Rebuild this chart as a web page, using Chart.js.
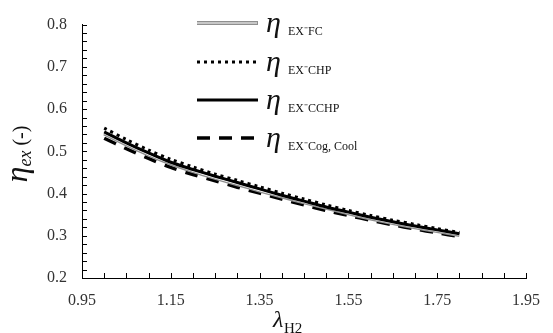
<!DOCTYPE html>
<html lang="en">
<head>
    <meta charset="UTF-8">
    <title>Exergy efficiency vs lambda H2</title>
    <script src="https://cdn.jsdelivr.net/npm/chart.js"></script>
    <style>
        body { margin: 0; padding: 0; background: #fff; }
        #chartBox { width: 553px; height: 333px; position: relative; }
    </style>
</head>
<body>
    <div id="chartBox"><canvas id="effChart" width="553" height="333"></canvas></div>

    <script>
        // values
        const lambdaH2 = [1.00, 1.05, 1.10, 1.15, 1.20, 1.25, 1.30, 1.35, 1.40, 1.45, 1.50, 1.55, 1.60, 1.65, 1.70, 1.75, 1.80];
        const etaFC    = [0.542, 0.516, 0.492, 0.471, 0.453, 0.437, 0.422, 0.407, 0.393, 0.379, 0.366, 0.353, 0.341, 0.330, 0.320, 0.311, 0.302];
        const etaCHP   = [0.555, 0.528, 0.503, 0.481, 0.463, 0.446, 0.431, 0.416, 0.401, 0.387, 0.373, 0.360, 0.348, 0.337, 0.327, 0.317, 0.308];
        const etaCCHP  = [0.546, 0.520, 0.496, 0.474, 0.457, 0.441, 0.426, 0.411, 0.396, 0.382, 0.368, 0.356, 0.344, 0.333, 0.323, 0.314, 0.305];
        const etaCog   = [0.531, 0.506, 0.483, 0.462, 0.445, 0.430, 0.415, 0.401, 0.387, 0.373, 0.360, 0.348, 0.337, 0.326, 0.316, 0.307, 0.298];
        const xTicks = [0.95, 1.15, 1.35, 1.55, 1.75, 1.95];
        const yTicks = [0.2, 0.3, 0.4, 0.5, 0.6, 0.7, 0.8];
        const legendSubs = ['EX\u207BFC', 'EX\u207BCHP', 'EX\u207BCCHP', 'EX\u207BCog, Cool'];

        const serif = '"Liberation Serif"';
        const pts = (ys) => ys.map((y, i) => ({ x: lambdaH2[i], y: y }));

        // inward minor ticks, titles and the legend
        const decorPlugin = {
            id: 'decor',
            afterDraw(chart) {
                const ctx = chart.ctx;
                const xs = chart.scales.x, ys = chart.scales.y;
                const area = chart.chartArea;
                ctx.save();
                ctx.strokeStyle = '#000';
                ctx.lineWidth = 1;
                ctx.beginPath();
                for (let i = 0; i <= 20; i++) {
                    const px = Math.round(xs.getPixelForValue(0.95 + i * 0.05)) + 0.5;
                    ctx.moveTo(px, area.bottom);
                    ctx.lineTo(px, area.bottom - 5);
                }
                for (let i = 0; i <= 30; i++) {
                    const py = Math.round(ys.getPixelForValue(0.2 + i * 0.02)) + 0.5;
                    ctx.moveTo(area.left, py);
                    ctx.lineTo(area.left + 5, py);
                }
                ctx.stroke();

                // legend
                const rowY = [23, 62, 100, 138];
                const dsIndex = [0, 2, 3, 4];
                dsIndex.forEach((k, i) => {
                    const y = rowY[i];
                    const d = chart.data.datasets[k];
                    ctx.beginPath();
                    ctx.setLineDash(d.borderDash || []);
                    ctx.lineWidth = d.borderWidth;
                    ctx.strokeStyle = d.borderColor;
                    ctx.moveTo(197, y);
                    ctx.lineTo(258, y);
                    ctx.stroke();
                    if (i === 0) {
                        const inner = chart.data.datasets[1];
                        ctx.beginPath();
                        ctx.lineWidth = inner.borderWidth;
                        ctx.strokeStyle = inner.borderColor;
                        ctx.moveTo(197, y);
                        ctx.lineTo(257, y);
                        ctx.stroke();
                    }
                    ctx.setLineDash([]);
                    ctx.fillStyle = '#111';
                    ctx.textBaseline = 'alphabetic';
                    ctx.textAlign = 'left';
                    ctx.font = 'italic 30px ' + serif;
                    ctx.fillText('\u03B7', 266, y + 9);
                    ctx.font = '12px ' + serif;
                    ctx.fillText(legendSubs[i], 288, y + 12);
                });

                // y title
                ctx.save();
                ctx.translate(27, 154);
                ctx.rotate(-Math.PI / 2);
                ctx.fillStyle = '#111';
                ctx.textBaseline = 'alphabetic';
                ctx.font = 'italic 32px ' + serif;
                const w1 = ctx.measureText('\u03B7').width;
                ctx.font = 'italic 18px ' + serif;
                const w2 = ctx.measureText('ex').width;
                ctx.font = '20px ' + serif;
                const w3 = ctx.measureText(' (-)').width;
                let sx = -(w1 + w2 + w3) / 2;
                ctx.font = 'italic 32px ' + serif;
                ctx.fillText('\u03B7', sx, 0);
                sx += w1;
                ctx.font = 'italic 18px ' + serif;
                ctx.fillText('ex', sx, 4);
                sx += w2;
                ctx.font = '20px ' + serif;
                ctx.fillText(' (-)', sx, 0);
                ctx.restore();

                // x title
                ctx.fillStyle = '#111';
                ctx.font = 'italic 24px ' + serif;
                ctx.fillText('\u03BB', 273, 327);
                ctx.font = '15px ' + serif;
                ctx.fillText('H2', 284, 333);
                ctx.restore();
            }
        };

        const buildChart = () => {
            new Chart(document.getElementById('effChart'), {
                type: 'line',
                data: {
                    datasets: [
                        { label: 'FC', data: pts(etaFC), borderColor: '#8f8f8f', borderWidth: 4, order: 4 },
                        { label: 'FC inner', data: pts(etaFC), borderColor: '#ffffff', borderWidth: 1.2, order: 3 },
                        { label: 'CHP', data: pts(etaCHP), borderColor: '#000', borderWidth: 3, borderDash: [3, 4], order: 0 },
                        { label: 'CCHP', data: pts(etaCCHP), borderColor: '#000', borderWidth: 3, order: 1 },
                        { label: 'Cog, Cool', data: pts(etaCog), borderColor: '#000', borderWidth: 3.5, borderDash: [13, 9], order: 5 }
                    ]
                },
                options: {
                    responsive: false,
                    animation: false,
                    layout: { padding: { top: 19, right: 22, left: 0, bottom: 0 } },
                    elements: { point: { radius: 0 }, line: { tension: 0.3, borderCapStyle: 'butt' } },
                    plugins: { legend: { display: false }, tooltip: { enabled: false } },
                    scales: {
                        x: {
                            type: 'linear',
                            min: 0.95,
                            max: 1.95,
                            afterFit: (scale) => { scale.height = 55; },
                            afterBuildTicks: (scale) => { scale.ticks = xTicks.map(v => ({ value: v })); },
                            grid: { display: false, drawTicks: false },
                            border: { display: true, color: '#000', width: 1 },
                            ticks: {
                                padding: 13,
                                color: '#333',
                                font: { family: serif, size: 16 },
                                callback: (v) => Number(v).toFixed(2)
                            }
                        },
                        y: {
                            min: 0.2,
                            max: 0.8,
                            afterFit: (scale) => { scale.width = 82; },
                            afterBuildTicks: (scale) => { scale.ticks = yTicks.map(v => ({ value: v })); },
                            grid: { display: false, drawTicks: false },
                            border: { display: true, color: '#000', width: 1 },
                            ticks: {
                                padding: 15,
                                color: '#333',
                                font: { family: serif, size: 16 },
                                callback: (v) => Number(v).toFixed(1)
                            }
                        }
                    }
                },
                plugins: [decorPlugin]
            });
        };

        Promise.all([
            document.fonts.load('16px "Liberation Serif"', '0.95'),
            document.fonts.load('italic 30px "Liberation Serif"', '\u03B7\u03BBex')
        ]).then(buildChart, buildChart);
    </script>
</body>
</html>
